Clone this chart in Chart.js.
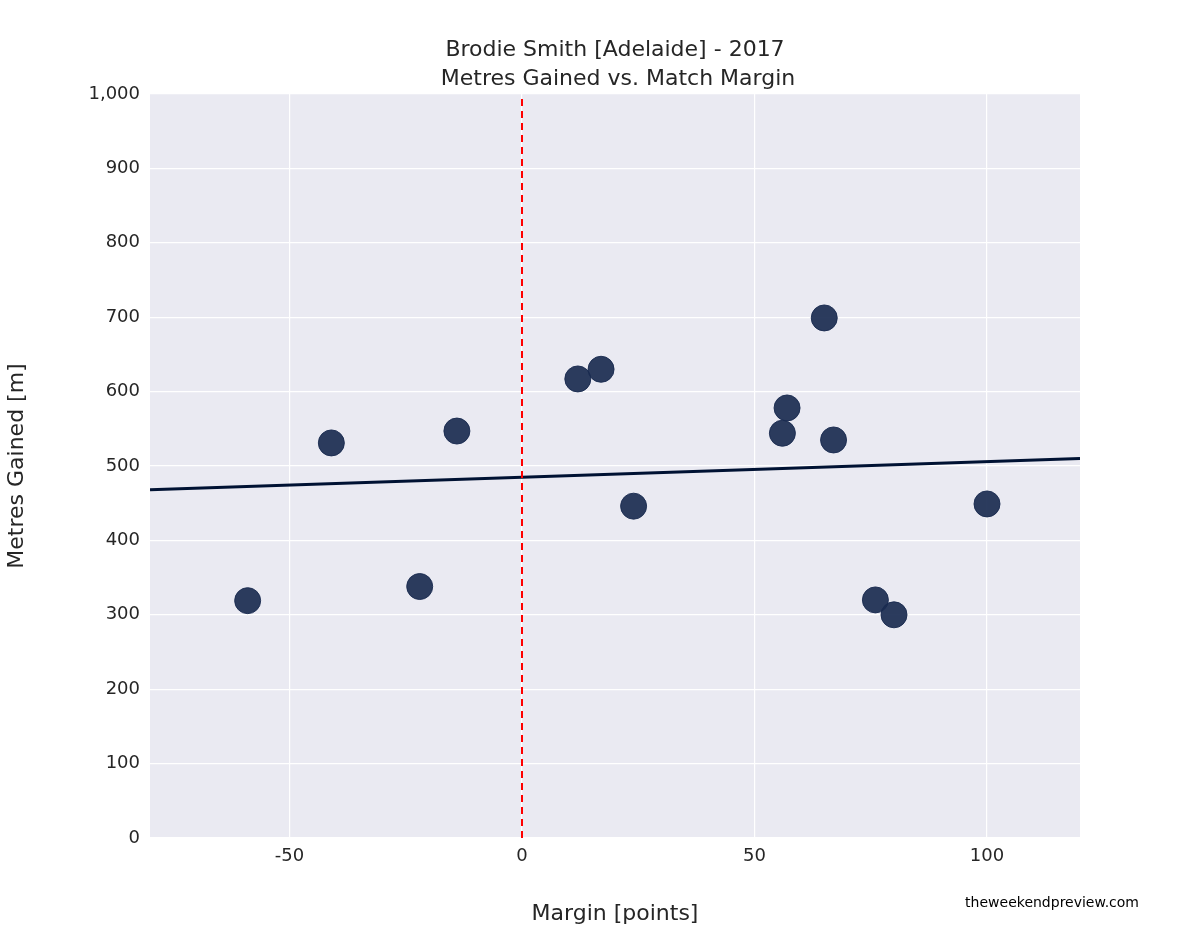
<!DOCTYPE html>
<html>
<head>
<meta charset="utf-8">
<script src="https://cdn.jsdelivr.net/npm/chart.js@4/dist/chart.umd.min.js"></script>
<style>
  html, body { margin: 0; padding: 0; background: #fff; }
  #chartCanvas { display: block; }
</style>
</head>
<body>
<canvas id="chartCanvas" width="1200" height="931"></canvas>
<script>
// Margin vs metres gained, one point per match
const margins = [-59, -41, -22, -14, 12, 17, 24, 56, 57, 65, 67, 76, 80, 100];
const metres = [319, 531, 338, 547, 617, 630, 446, 544, 578, 699, 535, 320, 300, 449];
const fitX = [-80, 120];
const fitY = [468, 510];
const xTicks = [-50, 0, 50, 100];
const titleLines = ['Brodie Smith [Adelaide] - 2017', 'Metres Gained vs. Match Margin'];
const font = '"DejaVu Sans", "Liberation Sans", sans-serif';
const textColor = '#262626';

const overlay = {
  id: 'overlay',
  beforeDraw(chart) {
    const a = chart.chartArea, c = chart.ctx;
    c.save();
    c.fillStyle = '#EAEAF2';
    c.fillRect(a.left, a.top, a.right - a.left, a.bottom - a.top);
    c.restore();
  },
  afterDraw(chart) {
    const c = chart.ctx;
    c.save();
    c.fillStyle = textColor;
    c.textAlign = 'center';
    c.font = '22px ' + font;
    c.fillText(titleLines[0], 615, 56);
    c.fillText(titleLines[1], 618, 85);
    c.textAlign = 'right';
    c.font = '14px ' + font;
    c.fillStyle = '#000';
    c.fillText('theweekendpreview.com', 1139, 907);
    c.restore();
  }
};

new Chart(document.getElementById('chartCanvas').getContext('2d'), {
  type: 'scatter',
  data: {
    datasets: [
      {
        type: 'line',
        data: [{ x: 0, y: 0 }, { x: 0, y: 1000 }],
        borderColor: '#ff0000',
        borderWidth: 2,
        borderDash: [7, 5],
        pointRadius: 0
      },
      {
        type: 'line',
        data: fitX.map((x, i) => ({ x: x, y: fitY[i] })),
        borderColor: '#001233',
        borderWidth: 3,
        pointRadius: 0
      },
      {
        data: margins.map((x, i) => ({ x: x, y: metres[i] })),
        backgroundColor: 'rgba(26, 43, 80, 0.92)',
        borderColor: 'rgba(26, 43, 80, 0.92)',
        pointRadius: 13,
        order: -1
      }
    ]
  },
  options: {
    responsive: false,
    animation: false,
    layout: { padding: { top: 94, right: 120, left: 0, bottom: 0 } },
    plugins: { legend: { display: false }, title: { display: false }, tooltip: { enabled: false } },
    scales: {
      x: {
        type: 'linear', min: -80, max: 120,
        afterBuildTicks(axis) { axis.ticks = xTicks.map(v => ({ value: v })); },
        afterFit(axis) { axis.height = 93; },
        grid: { color: '#ffffff', lineWidth: 1.2, drawTicks: false },
        border: { display: false },
        ticks: { color: textColor, font: { size: 18, family: font }, padding: 8 },
        title: { display: true, text: 'Margin [points]', color: textColor, font: { size: 22, family: font }, padding: { top: 4 } }
      },
      y: {
        min: 0, max: 1000,
        afterFit(axis) { axis.width = 150; },
        grid: { color: '#ffffff', lineWidth: 1.2, drawTicks: false },
        border: { display: false },
        ticks: { stepSize: 100, color: textColor, font: { size: 18, family: font }, padding: 10 },
        title: { display: true, text: 'Metres Gained [m]', color: textColor, font: { size: 22, family: font }, padding: { bottom: 8 } }
      }
    }
  },
  plugins: [overlay]
});
</script>
</body>
</html>
